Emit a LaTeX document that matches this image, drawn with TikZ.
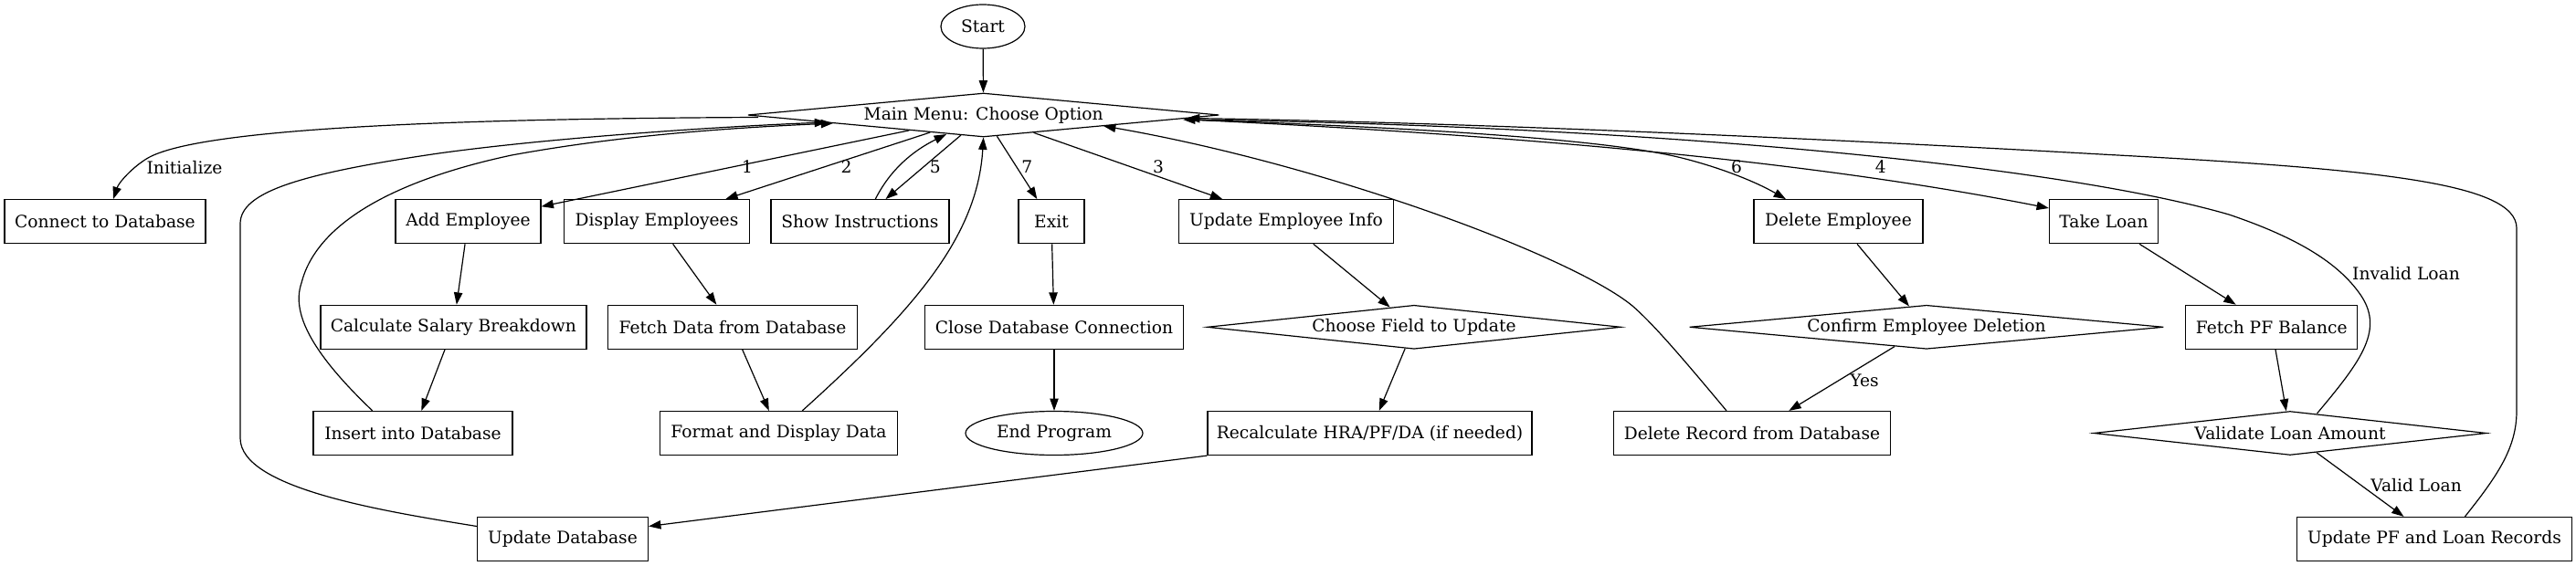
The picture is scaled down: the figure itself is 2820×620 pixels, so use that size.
\documentclass[tikz,border=0pt]{standalone}
\usepackage{fontspec}
\setmainfont{DejaVu Serif}
\usetikzlibrary{arrows.meta,shapes.geometric,calc}
\begin{document}
\begin{tikzpicture}[x=0.75pt,y=-0.75pt,
  every node/.style={font=\fontsize{14}{16}\selectfont, inner sep=0pt},
  box/.style={draw, line width=0.9pt, rectangle, minimum height=36pt},
  dia/.style={draw, line width=0.9pt, diamond, aspect=10, minimum height=36pt},
  oval/.style={draw, line width=0.9pt, ellipse, minimum height=36pt},
  arr/.style={line width=0.9pt, -{Triangle[length=10pt,width=7pt]}},
  lbl/.style={}]
\useasboundingbox (0,0) rectangle (2820,620);
% nodes
\node[oval, minimum width=69pt] (start) at (1076,29) {Start};
\node[dia, minimum width=387pt] (main) at (1076.6,126) {Main Menu: Choose Option};
% row 1
\node[box, minimum width=165pt] (con) at (115,242.7) {Connect to Database};
\node[box, minimum width=119.25pt] (add) at (512.5,242.7) {Add Employee};
\node[box, minimum width=152.25pt] (disp) at (719,242.7) {Display Employees};
\node[box, minimum width=146.25pt] (show) at (941.5,242.7) {Show Instructions};
\node[box, minimum width=54pt] (exit) at (1151,242.7) {Exit};
\node[box, minimum width=176.25pt] (upd) at (1408,242.7) {Update Employee Info};
\node[box, minimum width=138.75pt] (del) at (2012.5,242.7) {Delete Employee};
\node[box, minimum width=89.25pt] (loan) at (2303,242.7) {Take Loan};
% row 2
\node[box, minimum width=218.25pt] (calcs) at (496.4,358.3) {Calculate Salary Breakdown};
\node[box, minimum width=204.75pt] (fetch) at (802,358.3) {Fetch Data from Database};
\node[box, minimum width=212.6pt] (close) at (1154,358.3) {Close Database Connection};
\node[dia, minimum width=339.75pt] (choose) at (1548,358.3) {Choose Field to Update};
\node[dia, minimum width=389.25pt] (confirm) at (2109,358.3) {Confirm Employee Deletion};
\node[box, minimum width=141pt] (pf) at (2486.7,358.3) {Fetch PF Balance};
% row 3
\node[box, minimum width=163.5pt] (insert) at (452,474.5) {Insert into Database};
\node[box, minimum width=195pt] (format) at (852.5,474.5) {Format and Display Data};
\node[oval, minimum width=145.5pt] (endp) at (1154,474.5) {End Program};
\node[box, minimum width=266.25pt] (recalc) at (1499.5,474.5) {Recalculate HRA/PF/DA (if needed)};
\node[box, minimum width=227.25pt] (delrec) at (1918,474.5) {Delete Record from Database};
\node[dia, minimum width=322.5pt] (validate) at (2507,474.5) {Validate Loan Amount};
% row 4
\node[box, minimum width=140.25pt] (upddb) at (616,590.5) {Update Database};
\node[box, minimum width=225.75pt] (updpf) at (2665,590.5) {Update PF and Loan Records};
% edges
\draw[arr] (start) -- (main);
\draw[arr] ($(main.west)+(12,2.5)$) .. controls (500,130) and (220,140) .. (162,173) .. controls (145,183) and (130,200) .. ($(con.north)+(9,0)$);
\draw[arr] (main) -- (add);
\draw[arr] (main) -- (disp);
\draw[arr] ($(main)+(-24.6,22)$) -- ($(show.north)+(28,0)$);
\draw[arr] ($(show.north)+(16.8,0)$) .. controls (975,185) and (1000,165) .. ($(main)+(-40.6,21)$);
\draw[arr] (main) -- (exit);
\draw[arr] (main) -- (upd);
\draw[arr] ($(main)+(221.4,5)$) .. controls (1500,138) and (1750,150) .. (1841,173) .. controls (1881,183) and (1920,198) .. ($(del.north)+(-57.5,0)$);
\draw[arr] ($(main)+(225.4,5)$) .. controls (1700,150) and (2000,180) .. ($(loan.west)+(0,-14.7)$);
\draw[arr] (add) -- (calcs);
\draw[arr] (calcs) -- (insert);
\draw[arr] ($(insert.north)+(-44.3,0)$) .. controls (345,390) and (318,345) .. (330,310) .. controls (345,250) and (420,200) .. (560,170) .. controls (680,148) and (800,140) .. ($(main)+(-164.6,9)$);
\draw[arr] ($(upddb.west)+(0,-14)$) .. controls (420,560) and (263,535) .. (263,480) -- (263,245) .. controls (263,210) and (330,190) .. (480,168) .. controls (610,150) and (800,138) .. ($(main)+(-171.6,8)$);
\draw[arr] (disp) -- (fetch);
\draw[arr] (fetch) -- (format);
\draw[arr] ($(format.north)+(25.8,0)$) .. controls (1000,340) and (1070,260) .. (main.south);
\draw[arr] (exit) -- (close);
\draw[arr] (close) -- (endp);
\draw[arr] (upd) -- (choose);
\draw[arr] (choose) -- (recalc);
\draw[arr] (recalc.south west) -- ($(upddb.east)+(0,-14)$);
\draw[arr] (del) -- (confirm);
\draw[arr] (confirm) -- (delrec);
\draw[arr] ($(delrec.north)+(-28,0)$) .. controls (1840,390) and (1810,355) .. (1787,335) .. controls (1720,280) and (1450,180) .. ($(main)+(131.4,12)$);
\draw[arr] (loan) -- (pf);
\draw[arr] (pf) -- (validate);
\draw[arr] ($(validate.north)+(29.5,3)$) .. controls (2585,395) and (2612,360) .. (2582,320) .. controls (2560,290) and (2520,262) .. (2440,235) .. controls (2250,180) and (1800,138) .. ($(main)+(218.4,5)$);
\draw[arr] (validate) -- (updpf);
\draw[arr] ($(updpf.north)+(33.4,0)$) .. controls (2735,520) and (2755,490) .. (2755,450) -- (2755,250) .. controls (2755,200) and (2600,185) .. (2300,169) .. controls (2000,152) and (1600,134) .. ($(main)+(223.4,3.5)$);
% labels
\node[lbl] (l-init) at (202,184) {Initialize};
\node[lbl] (l-1) at (818,183) {1};
\node[lbl] (l-2) at (926.6,183) {2};
\node[lbl] (l-5) at (1023.8,183) {5};
\node[lbl] (l-7) at (1124.4,183) {7};
\node[lbl] (l-3) at (1268,183) {3};
\node[lbl] (l-6) at (1901,183) {6};
\node[lbl] (l-4) at (2058.7,183) {4};
\node[lbl] (l-yes) at (2041,416.7) {Yes};
\node[lbl] (l-inv) at (2634,300) {Invalid Loan};
\node[lbl] (l-val) at (2645,531.7) {Valid Loan};
\end{tikzpicture}
\end{document}
